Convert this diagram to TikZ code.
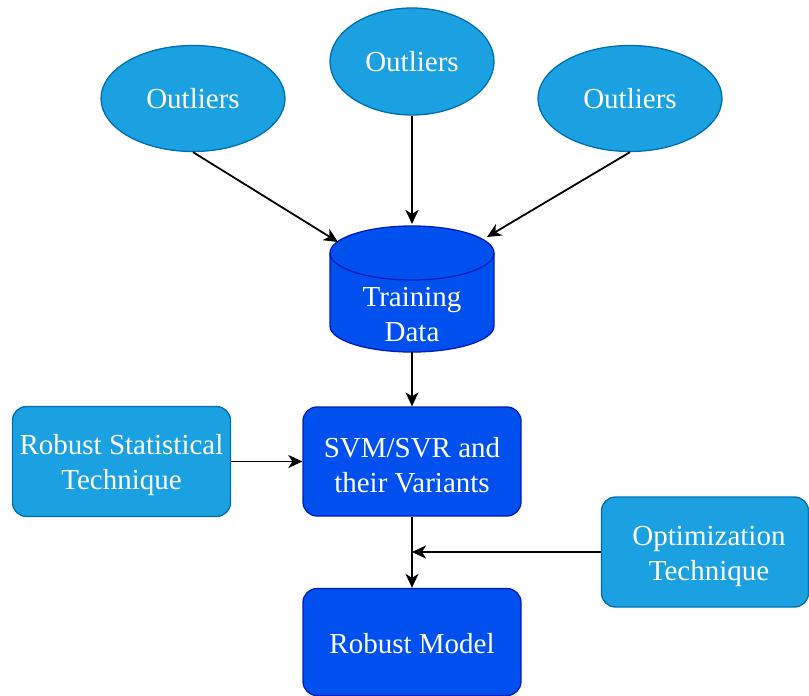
\documentclass[tikz,border=0pt]{standalone}
\usepackage{fontspec}
\setmainfont{Liberation Serif}
\usetikzlibrary{shapes.geometric,arrows.meta}
\definecolor{lfill}{HTML}{1BA1E2}
\definecolor{lstroke}{HTML}{006EAF}
\definecolor{dfill}{HTML}{0050EF}
\definecolor{dstroke}{HTML}{001DBC}
\begin{document}
\begin{tikzpicture}[x=1pt,y=-1pt,
 every node/.style={font=\fontsize{29}{35}\selectfont, text=white, align=center},
 outl/.style={ellipse, draw=lstroke, fill=lfill, line width=1.3pt, minimum width=184pt, minimum height=106pt, inner sep=0pt},
 lbox/.style={rectangle, rounded corners=14pt, draw=lstroke, fill=lfill, line width=1.3pt, inner sep=0pt},
 dbox/.style={rectangle, rounded corners=14pt, draw=dstroke, fill=dfill, line width=1.3pt, inner sep=0pt},
 arr/.style={-{Stealth[length=14pt,width=13pt,inset=4pt]}, line width=1.8pt, draw=black}
]
\useasboundingbox (0,0) rectangle (809,696);
% outliers
\node[outl] (o1) at (193,98.5) {Outliers};
\node[outl, minimum width=164pt, minimum height=107pt] (o2) at (412,61.5) {Outliers};
\node[outl] (o3) at (630,98.5) {Outliers};
% cylinder
\path[fill=dfill, draw=dstroke, line width=1.3pt] (330,253) -- (330,326) arc[start angle=180, end angle=0, x radius=82, y radius=26] -- (494,253);
\path[fill=dfill, draw=dstroke, line width=1.3pt] (412,253) ellipse[x radius=82, y radius=27];
\node (data) at (412,315) {Training\\Data};
\coordinate (dl) at (338,242);
\coordinate (dt) at (412,224);
\coordinate (dr) at (487,237);
\coordinate (db) at (412,352);
% boxes
\node[lbox, minimum width=218pt, minimum height=110pt] (rob) at (121.5,461.5) {};
\node (robt) at (121.5,465.5) {Robust Statistical\\Technique};
\node[dbox, minimum width=218pt, minimum height=109pt] (svm) at (412,461.5) {};
\node (svmt) at (412,465.5) {SVM/SVR and\\their Variants};
\node[lbox, minimum width=207pt, minimum height=110pt] (opt) at (705,552) {};
\node (optt) at (709,556.5) {Optimization\\Technique};
\node[dbox, minimum width=218pt, minimum height=107pt] (model) at (412,642) {};
\node (modelt) at (412,644) {Robust Model};
% arrows
\draw[arr] (o1.south) -- (dl);
\draw[arr] (o2.south) -- (dt);
\draw[arr] (o3.south) -- (dr);
\draw[arr] (db) -- (svm.north);
\draw[arr] (rob.east) -- (svm.west);
\draw[arr] (svm.south) -- (model.north);
\draw[arr] (opt.west) -- (opt.west -| svm.south);
\end{tikzpicture}
\end{document}
